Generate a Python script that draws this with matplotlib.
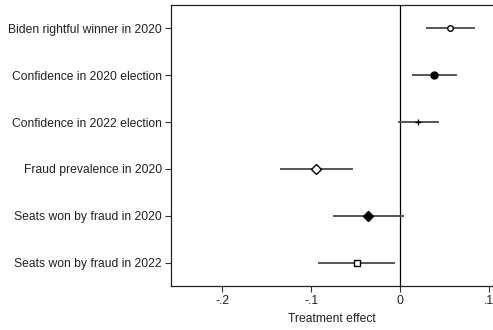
import matplotlib
matplotlib.use("Agg")
import matplotlib.pyplot as plt

labels = ["Biden rightful winner in 2020", "Confidence in 2020 election",
          "Confidence in 2022 election", "Fraud prevalence in 2020",
          "Seats won by fraud in 2020", "Seats won by fraud in 2022"]
estimates = [0.0562, 0.0383, 0.0206, -0.0945, -0.0356, -0.0487]
ci_low = [0.030, 0.015, -0.0008, -0.134, -0.0742, -0.0907]
ci_high = [0.0829, 0.0626, 0.0431, -0.0536, 0.0038, -0.0064]
xticks = [-0.2, -0.1, 0, 0.1]
xticklabels = ["-.2", "-.1", "0", ".1"]

markers = ["o", "o", "+", "D", "D", "s"]
filled = [False, True, False, False, True, False]
sizes = [4.0, 5.0, 4.0, 4.6, 5.5, 4.2]

plt.rcParams['font.family'] = ['Liberation Sans', 'DejaVu Sans']
fig = plt.figure(figsize=(4.93, 3.30), dpi=100)
ax = fig.add_axes([171/493, 44/330, 1 - 171/493, (286-5)/330])

n = len(labels)
ys = [n - i for i in range(n)]
ax.axvline(0, color='black', lw=0.9, zorder=1)
for i in range(n):
    ax.plot([ci_low[i], ci_high[i]], [ys[i], ys[i]], color='#555555', lw=1.4, zorder=2)
    face = 'black' if filled[i] else 'white'
    if markers[i] == '+':
        ax.plot(estimates[i], ys[i], marker='+', ms=sizes[i], color='black', mew=1.0, ls='none', zorder=3)
    else:
        ax.plot(estimates[i], ys[i], marker=markers[i], ms=sizes[i],
                mfc=face, mec='black', mew=1.0, ls='none', zorder=3)

ax.set_xlim(-0.2576, 0.1046)
ax.set_ylim(0.5, n + 0.5)
ax.set_yticks(ys)
ax.set_yticklabels(labels, fontsize=8.75, color='#222222')
ax.set_xticks(xticks)
ax.set_xticklabels(xticklabels, fontsize=8.75, color='#222222')
ax.set_xlabel("Treatment effect", fontsize=8.75, color='#222222', labelpad=4)
ax.tick_params(axis='both', length=4, width=0.8, color='#333333', pad=2.5)
ax.spines['right'].set_visible(False)
for s in ['left', 'top', 'bottom']:
    ax.spines[s].set_linewidth(0.9)
    ax.spines[s].set_color('#222222')

fig.savefig("out.png", dpi=100)
